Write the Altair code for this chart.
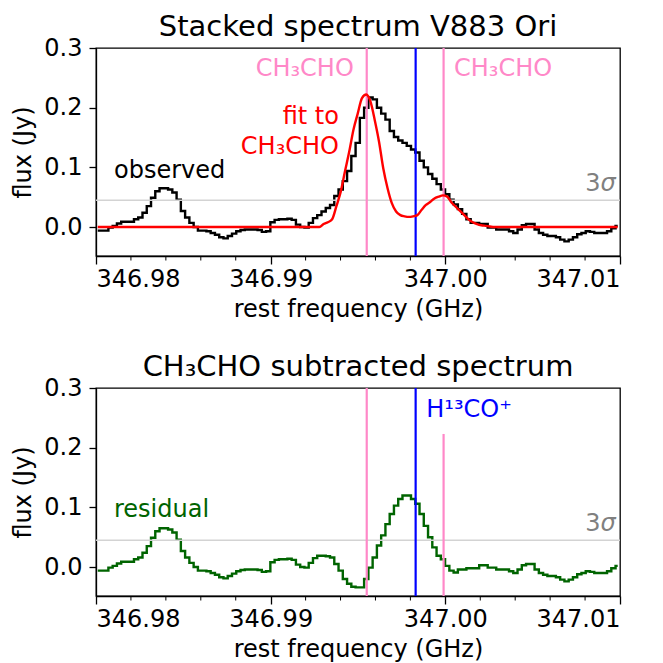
import altair as alt
import pandas as pd

# spectral channel grid (GHz)
FREQ_START = 346.9801
CHAN_WIDTH = 0.000244

observed = [
    -0.006, -0.006, -0.006, -0.001, 0.002, 0.006, 0.009, 0.009, 0.009, 0.013,
    0.016, 0.024, 0.035, 0.049, 0.060, 0.065, 0.065, 0.063, 0.058, 0.046,
    0.027, 0.016, 0.007, 0.000, -0.006, -0.006, -0.007, -0.010, -0.013, -0.017,
    -0.019, -0.015, -0.011, -0.007, -0.005, -0.004, -0.004, -0.004, -0.005, -0.008,
    -0.007, 0.008, 0.012, 0.013, 0.013, 0.014, 0.012, 0.004, 0.000, -0.001,
    0.007, 0.015, 0.020, 0.026, 0.032, 0.037, 0.052, 0.063, 0.077, 0.094,
    0.119, 0.141, 0.183, 0.200, 0.217, 0.214, 0.200, 0.190, 0.180, 0.161,
    0.151, 0.145, 0.141, 0.136, 0.130, 0.125, 0.111, 0.100, 0.089, 0.081,
    0.072, 0.063, 0.055, 0.046, 0.038, 0.030, 0.022, 0.013, 0.007, 0.007,
    0.005, 0.005, -0.001, -0.001, -0.004, -0.004, -0.004, -0.007, -0.010, -0.004,
    0.003, 0.005, 0.005, -0.004, -0.010, -0.013, -0.015, -0.015, -0.017, -0.021,
    -0.024, -0.021, -0.017, -0.012, -0.010, -0.007, -0.008, -0.010, -0.010, -0.010,
    -0.007, -0.002, 0.002,
]

fit = [0.0] * 53 + [
    0.005, 0.008, 0.013, 0.035, 0.059, 0.093, 0.126, 0.163, 0.190, 0.216,
    0.222, 0.210, 0.179, 0.143, 0.098, 0.065, 0.040, 0.026, 0.020, 0.018,
    0.017, 0.018, 0.020, 0.029, 0.037, 0.042, 0.048, 0.051, 0.053, 0.051,
    0.041, 0.034, 0.027, 0.020, 0.013, 0.008, 0.005, 0.003, 0.002, 0.001,
] + [0.0] * 30

residual = [
    -0.006, -0.006, -0.006, -0.001, 0.002, 0.006, 0.009, 0.009, 0.009, 0.013,
    0.016, 0.024, 0.035, 0.049, 0.060, 0.065, 0.065, 0.063, 0.058, 0.046,
    0.027, 0.016, 0.007, 0.000, -0.006, -0.006, -0.007, -0.010, -0.013, -0.017,
    -0.019, -0.015, -0.011, -0.007, -0.005, -0.004, -0.004, -0.004, -0.005, -0.008,
    -0.007, 0.008, 0.012, 0.013, 0.013, 0.014, 0.012, 0.004, 0.000, -0.001,
    0.007, 0.015, 0.019, 0.019, 0.018, 0.016, 0.005, -0.006, -0.020, -0.028,
    -0.033, -0.034, -0.034, -0.020, -0.001, 0.016, 0.036, 0.053, 0.072, 0.089,
    0.103, 0.114, 0.120, 0.120, 0.114, 0.106, 0.089, 0.069, 0.050, 0.033,
    0.019, 0.013, 0.002, -0.006, -0.009, -0.004, -0.004, -0.002, -0.002, -0.002,
    0.003, 0.003, -0.001, -0.001, -0.004, -0.004, -0.004, -0.007, -0.010, -0.004,
    0.003, 0.005, 0.005, -0.004, -0.010, -0.013, -0.015, -0.015, -0.017, -0.021,
    -0.024, -0.021, -0.017, -0.012, -0.010, -0.007, -0.008, -0.010, -0.010, -0.010,
    -0.007, -0.002, 0.002,
]

freq = [round(FREQ_START + i * CHAN_WIDTH, 7) for i in range(len(observed))]

x_domain = [346.98, 347.01]
y_domain = [-0.0485, 0.3]
x_ticks = [346.98, 346.99, 347.00, 347.01]
x_minor = [346.982, 346.984, 346.986, 346.988, 346.992, 346.994, 346.996, 346.998,
           347.002, 347.004, 347.006, 347.008]
y_ticks = [0.0, 0.1, 0.2, 0.3]
sigma3 = 0.045
ch3cho_lines = [346.9955, 346.9999]
h13co_line = 346.9983
h13co_panel_top = 0.223

PINK = "#ff88c8"
BLUE = "#0000ff"
GREEN = "#006400"
GRAY_TXT = "#808080"
GRAY_LINE = "#d3d3d3"
FONT = "DejaVu Sans"

W, H = 524, 208

spec = pd.DataFrame({"freq": freq, "observed": observed, "fit": fit, "residual": residual})

xs = alt.Scale(domain=x_domain, nice=False, zero=False)
ys = alt.Scale(domain=y_domain, nice=False, zero=False)

x_axis = alt.Axis(values=x_ticks, format=".2f", title="rest frequency (GHz)",
                  tickSize=8, labelPadding=3, titlePadding=6, grid=False)
y_axis = alt.Axis(values=y_ticks, format=".1f", title="flux (Jy)",
                  tickSize=7, labelPadding=7, titlePadding=8, grid=False)


def base_layers(series, color, extra_fit=False, partial_line=False):
    step = alt.Chart(spec).mark_line(interpolate="step", color=color, strokeWidth=2.4).encode(
        x=alt.X("freq:Q", scale=xs, axis=x_axis),
        y=alt.Y(f"{series}:Q", scale=ys, axis=y_axis),
    )
    sig = alt.Chart(pd.DataFrame({"y": [sigma3]})).mark_rule(
        color=GRAY_LINE, strokeWidth=1.6).encode(y=alt.Y("y:Q", scale=ys, axis=y_axis))
    if partial_line:
        vdf = pd.DataFrame({"f": [ch3cho_lines[0], h13co_line], "c": [PINK, BLUE]})
        part = alt.Chart(pd.DataFrame({"f": [ch3cho_lines[1]], "y0": [y_domain[0]],
                                       "y1": [h13co_panel_top]})).mark_rule(
            color=PINK, strokeWidth=2.2).encode(
            x=alt.X("f:Q", scale=xs, axis=x_axis), y=alt.Y("y0:Q", scale=ys, axis=y_axis), y2="y1:Q")
    else:
        vdf = pd.DataFrame({"f": ch3cho_lines + [h13co_line], "c": [PINK, PINK, BLUE]})
        part = None
    vlines = alt.Chart(vdf).mark_rule(strokeWidth=2.2).encode(
        x=alt.X("f:Q", scale=xs, axis=x_axis), color=alt.Color("c:N", scale=None))
    minor = alt.Chart(pd.DataFrame({"f": x_minor})).mark_rule(
        color="black", strokeWidth=1).encode(
        x=alt.X("f:Q", scale=xs, axis=x_axis), y=alt.value(H), y2=alt.value(H + 4.5))
    layers = [step, sig, vlines]
    if part is not None:
        layers.append(part)
    if extra_fit:
        fitl = alt.Chart(spec).mark_line(interpolate="monotone", color="red", strokeWidth=2.4).encode(
            x=alt.X("freq:Q", scale=xs, axis=x_axis), y=alt.Y("fit:Q", scale=ys, axis=y_axis))
        layers.append(fitl)
    layers.append(minor)
    return layers


def texts(rows, align, **kw):
    df = pd.DataFrame(rows, columns=["t", "f", "v", "c"])
    return alt.Chart(df).mark_text(align=align, baseline="alphabetic", fontSize=24,
                                   font=FONT, **kw).encode(
        x=alt.X("f:Q", scale=xs, axis=x_axis), y=alt.Y("v:Q", scale=ys, axis=y_axis),
        text="t:N", color=alt.Color("c:N", scale=None))


top_left_txt = [("observed", 346.98103, 0.0826, "black"),
                ("CH₃CHO", 346.98914, 0.2529, PINK),
                ("CH₃CHO", 347.0005, 0.2529, PINK)]
top_right_txt = [("fit to", 346.99391, 0.1725, "red"),
                 ("CH₃CHO", 346.99391, 0.1223, "red")]
top_sigma = [("σ", 347.00975, 0.0603, GRAY_TXT)]
top_three = [("3", 347.00975, 0.0603, GRAY_TXT)]
bot_left_txt = [("residual", 346.98103, 0.0831, GREEN),
                ("H¹³CO⁺", 346.99891, 0.2506, BLUE)]
bot_sigma = [("σ", 347.00975, 0.0608, GRAY_TXT)]
bot_three = [("3", 347.00975, 0.0608, GRAY_TXT)]

top = alt.layer(*base_layers("observed", "black", extra_fit=True),
                texts(top_left_txt, "left"), texts(top_right_txt, "right"),
                texts(top_sigma, "right", fontStyle="italic"),
                texts(top_three, "right", dx=-15)).properties(
    width=W, height=H, title=alt.Title("Stacked spectrum V883 Ori"))

bottom = alt.layer(*base_layers("residual", GREEN, partial_line=True),
                   texts(bot_left_txt, "left"),
                   texts(bot_sigma, "right", fontStyle="italic"),
                   texts(bot_three, "right", dx=-15)).properties(
    width=W, height=H, title=alt.Title("CH₃CHO subtracted spectrum"))

chart = alt.vconcat(top, bottom, spacing=30).properties(
    padding={"left": 3, "top": 4, "right": 5, "bottom": 0}
).configure(font=FONT).configure_view(
    stroke="black", strokeWidth=1.3
).configure_axis(
    labelFont=FONT, titleFont=FONT, labelFontSize=24, titleFontSize=24,
    titleFontWeight="normal", labelColor="black", titleColor="black",
    tickColor="black", domainColor="black", tickWidth=1.3, domainWidth=1.3,
).configure_title(
    font=FONT, fontSize=29, fontWeight="normal", color="black", offset=-6, anchor="middle"
)

chart.save("out.html", embed_options={"renderer": "svg", "actions": False})
